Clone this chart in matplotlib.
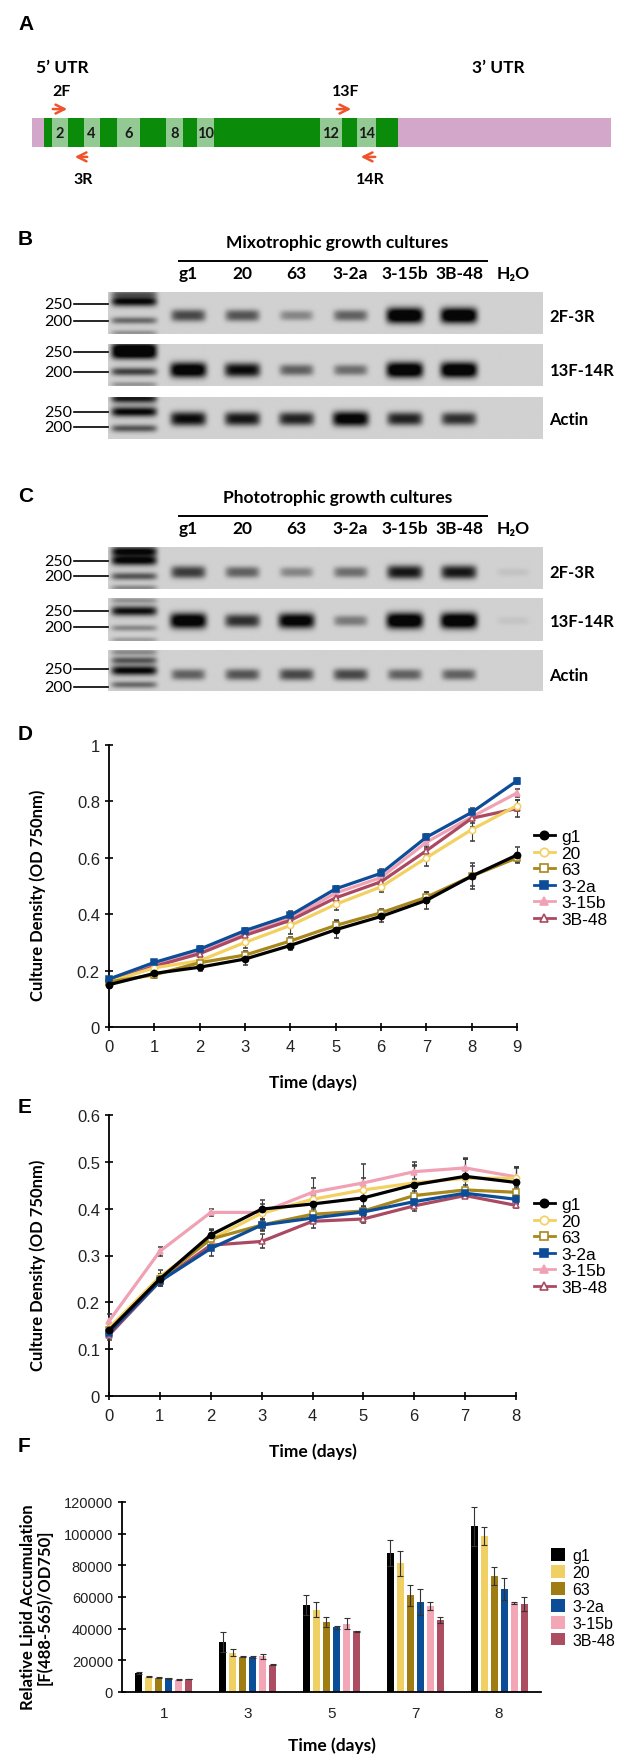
import numpy as np
import matplotlib
matplotlib.use('Agg')
import matplotlib.pyplot as plt
from matplotlib.lines import Line2D

W, H = 624, 1765
plt.rcParams['font.family'] = ['Liberation Sans', 'DejaVu Sans']
BOLD = ['Lato', 'DejaVu Sans']

# ---------------- data ----------------
strains = ['g1', '20', '63', '3-2a', '3-15b', '3B-48']
line_colors = ['#000000', '#f2d061', '#a8871c', '#0d4d98', '#f0a2b4', '#aa4a62']
bar_colors = ['#000000', '#f0cf63', '#9f7d13', '#0b4d96', '#f3a6b6', '#ad4d62']
markers = ['o', 'o', 's', 's', '^', '^']
filled = [True, False, False, True, True, False]

# panel A: gene model (arbitrary units along the transcript)
gene_len = 579
exon_edges = [11.8, 19.7, 36.4, 51.6, 67.5, 85.4, 108.1, 134.3, 151.0,
              165.0, 182.1, 287.5, 310.2, 325.3, 344.0, 365.9]
primer_names = ['2F', '3R', '13F', '14R']
primer_start = [18, 40, 302, 326]
primer_end = [38, 58, 322, 346]
primer_fwd = [True, False, True, False]

# panels B/C: RT-PCR band intensities (g1 .. 3B-48, H2O)
lanes = ['g1', '20', '63', '3-2a', '3-15b', '3B-48', 'H\u2082O']
mixo_2f3r = [0.55, 0.5, 0.3, 0.45, 1.0, 1.0, 0.0]
mixo_13f14r = [0.95, 0.8, 0.45, 0.4, 1.0, 1.0, 0.0]
mixo_actin = [0.8, 0.75, 0.7, 0.9, 0.7, 0.65, 0.0]
photo_2f3r = [0.6, 0.45, 0.3, 0.4, 0.75, 0.75, 0.06]
photo_13f14r = [0.95, 0.65, 0.9, 0.35, 1.0, 1.0, 0.05]
photo_actin = [0.45, 0.5, 0.55, 0.55, 0.45, 0.45, 0.0]

# panel D: mixotrophic growth (OD750)
days_d = np.arange(10)
mixo_g1 = [0.150, 0.190, 0.212, 0.241, 0.289, 0.345, 0.392, 0.449, 0.535, 0.610]
mixo_20 = [0.160, 0.210, 0.235, 0.300, 0.360, 0.435, 0.497, 0.600, 0.700, 0.785]
mixo_63 = [0.160, 0.185, 0.228, 0.255, 0.305, 0.360, 0.405, 0.460, 0.535, 0.600]
mixo_32a = [0.170, 0.229, 0.276, 0.342, 0.396, 0.490, 0.545, 0.673, 0.761, 0.873]
mixo_315b = [0.165, 0.222, 0.268, 0.335, 0.385, 0.475, 0.530, 0.655, 0.745, 0.830]
mixo_3b48 = [0.160, 0.215, 0.260, 0.325, 0.378, 0.458, 0.515, 0.625, 0.740, 0.775]
mixo_err = [
    [0.010, 0.010, 0.015, 0.020, 0.015, 0.030, 0.020, 0.030, 0.035, 0.030],
    [0.010, 0.010, 0.010, 0.020, 0.030, 0.020, 0.020, 0.030, 0.040, 0.020],
    [0.010, 0.010, 0.010, 0.015, 0.015, 0.020, 0.015, 0.020, 0.045, 0.015],
    [0.005, 0.005, 0.010, 0.010, 0.015, 0.010, 0.015, 0.010, 0.015, 0.010],
    [0.005, 0.010, 0.010, 0.010, 0.010, 0.015, 0.010, 0.015, 0.020, 0.015],
    [0.005, 0.010, 0.010, 0.015, 0.010, 0.010, 0.015, 0.020, 0.030, 0.030],
]

# panel E: phototrophic growth (OD750)
days_e = np.arange(9)
photo_g1 = [0.140, 0.250, 0.344, 0.399, 0.410, 0.423, 0.451, 0.469, 0.456]
photo_20 = [0.145, 0.255, 0.335, 0.390, 0.420, 0.440, 0.455, 0.465, 0.465]
photo_63 = [0.140, 0.250, 0.335, 0.365, 0.388, 0.395, 0.428, 0.440, 0.435]
photo_32a = [0.135, 0.245, 0.315, 0.365, 0.380, 0.393, 0.415, 0.433, 0.420]
photo_315b = [0.160, 0.309, 0.392, 0.392, 0.435, 0.455, 0.479, 0.487, 0.468]
photo_3b48 = [0.130, 0.245, 0.322, 0.330, 0.373, 0.378, 0.406, 0.428, 0.407]
photo_err = [
    [0.010, 0.010, 0.012, 0.020, 0.020, 0.020, 0.040, 0.040, 0.030],
    [0.010, 0.015, 0.020, 0.020, 0.045, 0.055, 0.045, 0.040, 0.025],
    [0.010, 0.010, 0.020, 0.012, 0.012, 0.010, 0.010, 0.010, 0.010],
    [0.010, 0.010, 0.015, 0.010, 0.010, 0.010, 0.010, 0.005, 0.010],
    [0.015, 0.010, 0.008, 0.005, 0.010, 0.010, 0.015, 0.020, 0.020],
    [0.010, 0.010, 0.010, 0.015, 0.015, 0.008, 0.010, 0.005, 0.005],
]

# panel F: relative lipid accumulation
lipid_days = ['1', '3', '5', '7', '8']
lipid_g1 = [11800, 31700, 54900, 87700, 104700]
lipid_20 = [9700, 24900, 52000, 81300, 98300]
lipid_63 = [9100, 22400, 44400, 61100, 73000]
lipid_32a = [8700, 22000, 40800, 56600, 65000]
lipid_315b = [7600, 22600, 43100, 54300, 56200]
lipid_3b48 = [8200, 17100, 38400, 45400, 55600]
lipid_err = [
    [600, 6500, 6500, 8000, 12400],
    [300, 2100, 4600, 8000, 5700],
    [500, 500, 3200, 6500, 5700],
    [300, 600, 1100, 8200, 6700],
    [300, 1700, 3400, 2300, 800],
    [300, 300, 400, 1700, 4200],
]


def rect(x0, y0, x1, y1):
    return [x0 / W, 1 - y1 / H, (x1 - x0) / W, (y1 - y0) / H]


def ftext(x, y, s, **kw):
    fig.text(x / W, 1 - y / H, s, **kw)


fig = plt.figure(figsize=(W / 100, H / 100), dpi=100)

# panel letters
for letter, ly in zip('ABCDEF', [15, 230, 487, 725, 1098, 1437]):
    ftext(18, ly, letter, fontsize=15, fontweight='bold', va='top', ha='left')

# ---------------- A ----------------
axA = fig.add_axes(rect(32, 55, 611, 195))
axA.set_xlim(0, gene_len)
axA.set_ylim(-1.62, 3.21)
axA.axis('off')
axA.barh(0.5, gene_len, height=1, left=0, color='#d3a7c9')
lefts = exon_edges[:-1]
widths = np.diff(exon_edges)
ex_cols = ['#0a8c0a' if j % 2 == 0 else '#93c993' for j in range(len(widths))]
axA.barh(np.full(len(widths), 0.5), widths, height=1, left=lefts, color=ex_cols)
for j in range(len(widths)):
    if (j + 1) % 2 == 0:
        axA.text(lefts[j] + widths[j] / 2, 0.5, str(j + 1), ha='center', va='center',
                 fontsize=10.5, fontweight='bold', family=BOLD, color='#1a1a1a')
axA.text(4, 2.76, "5\u2019 UTR", fontsize=12.5, fontweight='bold', family=BOLD, ha='left', va='center')
axA.text(440, 2.76, "3\u2019 UTR", fontsize=12.5, fontweight='bold', family=BOLD, ha='left', va='center')
for name, s, e, fwd in zip(primer_names, primer_start, primer_end, primer_fwd):
    ya = 1.31 if fwd else -0.34
    yt = 1.92 if fwd else -1.1
    a, b = (s, e) if fwd else (e, s)
    axA.annotate('', xy=(b, ya), xytext=(a, ya),
                 arrowprops=dict(arrowstyle='->', color='#f0522c', lw=1.8, mutation_scale=16))
    axA.text((s + e) / 2 + 2, yt, name, fontsize=11.5, fontweight='bold', family=BOLD,
             ha='center', va='center')


# ---------------- B / C gels ----------------
def draw_gel(ax, ladder_y, ladder_int, bands, band_y, mark_y, label):
    nx, ny = 900, 90
    xs = np.linspace(-0.48, 7.55, nx)
    ys = np.linspace(0, 1, ny)
    X, Y = np.meshgrid(xs, ys)
    dark = np.zeros_like(X)
    for yy, s in zip(ladder_y, ladder_int):
        dark += s * np.exp(-np.abs(X / 0.42) ** 8) * np.exp(-((Y - yy) / (0.05 + 0.07 * s)) ** 2)
    for i, s in enumerate(bands):
        hw = 0.29 + 0.05 * s
        hh = 0.09 + 0.10 * s
        dark += 1.2 * s * np.exp(-np.abs((X - (i + 1)) / hw) ** 6) \
            * np.exp(-np.abs((Y - band_y) / hh) ** 2.5)
    img = 0.82 * (1 - np.clip(dark, 0, 0.97))
    ax.imshow(img, cmap='gray', vmin=0, vmax=1, extent=(-0.48, 7.55, 1, 0),
              aspect='auto', interpolation='bilinear')
    ax.set_xlim(-0.48, 7.55)
    ax.set_ylim(1, 0)
    ax.axis('off')
    for yy, t in zip(mark_y, ['250', '200']):
        ax.plot([-1.1, -0.48], [yy, yy], color='black', lw=1.2, clip_on=False)
        ax.text(-1.14, yy, t, ha='right', va='center', fontsize=11.5, family=['Lato', 'DejaVu Sans'])
    ax.text(1.015, 1 - band_y, label, transform=ax.transAxes, ha='left', va='center',
            fontsize=12, fontweight='bold', family=BOLD)


gel_sets = [
    ('Mixotrophic growth cultures', [(293, 335), (345, 387), (398, 440)],
     [mixo_2f3r, mixo_13f14r, mixo_actin], [0.56, 0.62, 0.52],
     [(0.29, 0.69), (0.19, 0.67), (0.36, 0.72)],
     [([0.04, 0.22, 0.68, 0.98], [0.5, 1.0, 0.5, 0.3]),
      ([0.08, 0.25, 0.66, 0.97], [1.0, 1.0, 0.7, 0.3]),
      ([0.03, 0.35, 0.75], [0.9, 1.0, 0.6])]),
    ('Phototrophic growth cultures', [(548, 590), (599, 642), (651, 692)],
     [photo_2f3r, photo_13f14r, photo_actin], [0.6, 0.53, 0.6],
     [(0.33, 0.69), (0.30, 0.67), (0.46, 0.9)],
     [([0.1, 0.32, 0.7, 0.98], [1.0, 1.0, 0.6, 0.35]),
      ([0.05, 0.3, 0.7, 0.98], [0.3, 0.95, 0.35, 0.25]),
      ([0.05, 0.25, 0.5, 0.85], [0.35, 0.6, 1.0, 0.5])]),
]
gel_labels = ['2F-3R', '13F-14R', 'Actin']

for title, yr, data, band_ys, marks, ladders in gel_sets:
    axes = []
    for (y0, y1), bands, by, mk, (lyv, liv), lab in zip(yr, data, band_ys, marks, ladders, gel_labels):
        ax = fig.add_axes(rect(108, y0, 543, y1))
        draw_gel(ax, lyv, liv, bands, by, mk, lab)
        axes.append(ax)
    top = axes[0]
    for i, t in enumerate(lanes):
        top.text(i + 1, -0.27, t, ha='center', va='bottom', fontsize=12.5, fontweight='bold', family=BOLD)
    top.plot([0.83, 6.51], [-0.75, -0.75], color='black', lw=1.4, clip_on=False)
    top.text(3.75, -1.0, title, ha='center', va='bottom', fontsize=12.5, fontweight='bold', family=BOLD)


# ---------------- D / E growth curves ----------------
def growth_panel(ax, days, series, errs, ymax, ystep, leg_top):
    for k in [4, 5, 1, 2, 3, 0]:
        ax.errorbar(days, series[k], yerr=errs[k], color=line_colors[k], lw=2.3,
                    marker=markers[k], ms=4.5,
                    mfc=line_colors[k] if filled[k] else 'white',
                    mec=line_colors[k], mew=1.1, ecolor='#3a3a3a', elinewidth=0.8,
                    capsize=1.8, capthick=0.8, clip_on=False, zorder=3)
    ax.set_xlim(0, days[-1])
    ax.set_ylim(0, ymax)
    ax.set_xticks(days)
    ax.set_yticks(np.arange(0, ymax + 1e-9, ystep))
    ax.yaxis.set_major_formatter(plt.FuncFormatter(lambda v, p: ('%g' % round(v, 2))))
    for s in ['top', 'right']:
        ax.spines[s].set_visible(False)
    for s in ['left', 'bottom']:
        ax.spines[s].set_linewidth(1.3)
    ax.tick_params(direction='inout', length=6, width=1.2, labelsize=12, colors='black',
                   labelcolor='#222222')
    ax.tick_params(axis='x', pad=6)
    ax.set_xlabel('Time (days)', fontsize=12.5, fontweight='bold', family=BOLD)
    ax.set_ylabel('Culture Density (OD 750nm)', fontsize=12, fontweight='bold', family=BOLD)
    ax.yaxis.set_label_coords(-0.155, 0.47)
    ax.xaxis.set_label_coords(0.5, -0.165)
    handles = [Line2D([0], [0], color=line_colors[k], lw=2, marker=markers[k], ms=6,
                      mfc=line_colors[k] if filled[k] else 'white', mec=line_colors[k], mew=1.2)
               for k in range(6)]
    ax.legend(handles, strains, loc='upper left', bbox_to_anchor=(534 / W, 1 - leg_top / H),
              bbox_transform=fig.transFigure, frameon=False, fontsize=12.5, handlelength=1.2,
              handletextpad=0.35, labelspacing=0.08, borderpad=0, borderaxespad=0)


axD = fig.add_axes(rect(109, 746, 517, 1028))
growth_panel(axD, days_d, [mixo_g1, mixo_20, mixo_63, mixo_32a, mixo_315b, mixo_3b48],
             mixo_err, 1.0, 0.2, 830)
axE = fig.add_axes(rect(109, 1116, 516, 1397))
growth_panel(axE, days_e, [photo_g1, photo_20, photo_63, photo_32a, photo_315b, photo_3b48],
             photo_err, 0.6, 0.1, 1198)

# ---------------- F lipid bars ----------------
axF = fig.add_axes(rect(122, 1503, 541, 1693))
lipids = [lipid_g1, lipid_20, lipid_63, lipid_32a, lipid_315b, lipid_3b48]
xc = np.arange(len(lipid_days)) + 0.5
step, bw = 0.1194, 0.0835
for k in range(6):
    axF.bar(xc + (k - 2.5) * step, lipids[k], bw, yerr=lipid_err[k], color=bar_colors[k],
            error_kw=dict(ecolor='#333333', elinewidth=0.8, capsize=2, capthick=0.8),
            label=strains[k])
axF.set_xlim(0, 5)
axF.set_ylim(0, 120000)
axF.set_xticks(xc)
axF.set_xticklabels(lipid_days)
axF.set_yticks(np.arange(0, 120001, 20000))
for s in ['top', 'right']:
    axF.spines[s].set_visible(False)
for s in ['left', 'bottom']:
    axF.spines[s].set_linewidth(1.3)
axF.tick_params(axis='y', direction='inout', length=6, width=1.2, labelsize=10.5, labelcolor='#222222')
axF.tick_params(axis='x', length=0, labelsize=11, pad=10, labelcolor='#222222')
axF.set_xlabel('Time (days)', fontsize=12.5, fontweight='bold', family=BOLD)
axF.xaxis.set_label_coords(0.5, -0.235)
axF.set_ylabel('Relative Lipid Accumulation\n[F(488-565)/OD750]', fontsize=12,
               fontweight='bold', family=BOLD, linespacing=1.0)
axF.yaxis.set_label_coords(-0.165, 0.45)
axF.legend(loc='upper left', bbox_to_anchor=(551 / W, 1 - 1549 / H), bbox_transform=fig.transFigure,
           frameon=False, fontsize=11.5, handlelength=0.85, handleheight=0.85,
           handletextpad=0.5, labelspacing=0.12, borderpad=0, borderaxespad=0)

fig.savefig('out.png', dpi=100)
